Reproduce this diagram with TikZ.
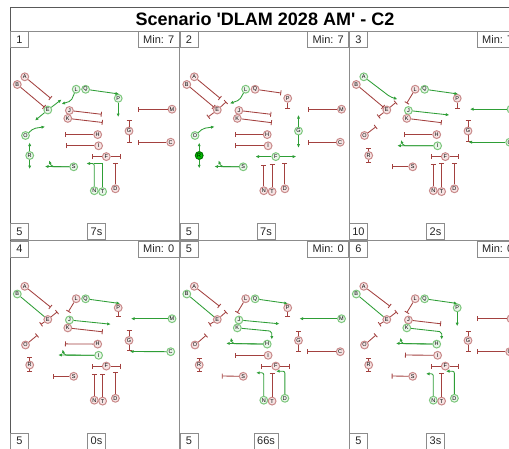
\documentclass[tikz,border=0pt]{standalone}
\usepackage{fontspec}
\setmainfont{Liberation Sans}
\usetikzlibrary{arrows.meta}
\definecolor{lred}{HTML}{A3413F}
\definecolor{lgreen}{HTML}{2E9E36}
\definecolor{nred}{HTML}{C98A8A}
\definecolor{nredf}{HTML}{F6E4E4}
\definecolor{ngreen}{HTML}{7DC77D}
\definecolor{ngreenf}{HTML}{EAF6EA}
\newcommand\nodelist{A/14.8/45.8, B/7.3/53.5, E/37.8/79, L/66.2/58.2, Q/75.6/58.3, P/108.2/67.3, M/162/78.2, J/59.4/79.5, K/57.8/87.4, G/119/100, C/160.7/111.2, O/15.5/104.5, H/87.7/103.6, I/88.6/114.8, R/19.7/124.5, F/96.3/125.6, S/63.7/135.8, N/84.3/159.7, T/92.6/160.6, D/105.4/157.8}
\newcommand\pnodes[1]{%
\begin{scope}[st-A/.style=rn, st-B/.style=rn, st-E/.style=rn, st-L/.style=rn, st-Q/.style=rn, st-P/.style=rn, st-M/.style=rn, st-J/.style=rn, st-K/.style=rn, st-G/.style=rn, st-C/.style=rn, st-O/.style=rn, st-H/.style=rn, st-I/.style=rn, st-R/.style=rn, st-F/.style=rn, st-S/.style=rn, st-N/.style=rn, st-T/.style=rn, st-D/.style=rn, #1]
\foreach \n/\x/\y in \nodelist {\node[st-\n] (\n) at (\x,\y) {\n};}
\end{scope}}
\newcommand\plabels[4]{%
\node[lbox, anchor=north west] (num) at (0,0) {#1};
\node[lbox, anchor=north east, minimum width=41pt] (min) at (169.5,0) {#2};
\node[lbox, anchor=south west] (cnt) at (0,209) {#3};
\node[lbox, anchor=south] (time) at (86.5,209) {#4};}
\begin{document}
\begin{tikzpicture}[x=1pt,y=-1pt,
 nd/.style={circle, minimum size=7.8pt, inner sep=0pt, line width=1pt, font=\fontsize{5.5}{5.5}\selectfont, text=black},
 rn/.style={nd, draw=nred, fill=nredf},
 gn/.style={nd, draw=ngreen, fill=ngreenf},
 fn/.style={nd, draw=green!45!black, fill=green!75!black},
 rl/.style={draw=lred, line width=0.85pt, -{Bar[width=5pt]}},
 gl/.style={draw=lgreen, line width=0.85pt, rounded corners=2pt, -{Latex[length=3.5pt,width=3.2pt]}},
 gp/.style={draw=lgreen, line width=0.85pt},
 frm/.style={draw=black!45, line width=0.8pt},
 lbox/.style={draw=black!45, line width=0.7pt, fill=white, font=\fontsize{11}{11}\selectfont, minimum height=16pt, minimum width=18pt, inner xsep=3pt, inner ysep=2pt, text=black!85}]
\useasboundingbox (0,0) rectangle (509,448);
\clip (0,0) rectangle (509,448);
\fill[white] (0,0) rectangle (509,448);
% frame
\draw[frm] (10,31) -- (520,31);
\draw[frm] (10,240) -- (520,240);
\draw[frm] (179.5,31) -- (179.5,450);
\draw[frm] (349,31) -- (349,450);
\draw[frm] (518.5,31) -- (518.5,450);
\draw[draw=black!65, line width=1pt] (520,7) -- (10,7) -- (10,450);
\node[font=\bfseries\fontsize{18}{18}\selectfont] (title) at (265,19.5) {Scenario \textquotesingle DLAM 2028 AM\textquotesingle{} - C2};

% ---------- panel 1
\begin{scope}[shift={(10,31)}, name prefix=p1-]
\pnodes{st-E/.style=gn, st-L/.style=gn, st-Q/.style=gn, st-P/.style=gn, st-O/.style=gn, st-R/.style=gn, st-S/.style=gn, st-N/.style=gn, st-T/.style=gn}
\plabels{1}{Min: 7}{5}{7s}
\draw[rl] (A) -- (40.7,67.3);
\draw[rl] (B) -- (E);
\draw[gl] (E) -- (25,89.5);
\draw[gl] (E) -- (51.5,68.5);
\draw[gl] (L) -- (61,70) -- (51.5,73);
\draw[gl] (Q) -- (109,63);
\draw[gl] (P) -- (108.2,86);
\draw[rl] (M) -- (128.3,78.2);
\draw[rl] (J) -- (91.7,83.3);
\draw[rl] (K) -- (92.7,91.5);
\draw[rl] (G) -- (119,89);
\draw[rl] (G) -- (119,111.5);
\draw[rl] (C) -- (128.3,111.2);
\draw[gl] (O) -- (23.5,97.5) -- (35,95.7);
\draw[rl] (H) -- (55,103.6);
\draw[rl] (I) -- (56,114.8);
\draw[gl] (R) -- (19.7,111.5);
\draw[gl] (R) -- (19.7,138);
\draw[rl] (F) -- (81.7,125.6);
\draw[rl] (F) -- (110.7,125.6);
\draw[gl] (S) -- (35,135.5);
\draw[gl] (S) -- (41.5,135.6) -- (39,129.5);
\draw[gl] (N) -- (84.3,132.5) -- (76.5,132.5);
\draw[gp] (T) -- (92.6,132.5) -- (84.3,132.5);
\draw[rl] (D) -- (105.4,131.7);
\end{scope}

% ---------- panel 2
\begin{scope}[shift={(179.5,31)}, name prefix=p2-]
\pnodes{st-L/.style=gn, st-G/.style=gn, st-O/.style=gn, st-R/.style=fn, st-F/.style=gn, st-S/.style=gn}
\plabels{2}{Min: 7}{5}{7s}
\draw[rl] (A) -- (40.7,67.3);
\draw[rl] (B) -- (E);
\draw[rl] (E) -- (28.5,86);
\draw[rl] (E) -- (46.7,70.8);
\draw[gl] (L) -- (60,69) -- (50.5,72.5);
\draw[rl] (Q) -- (101.7,62);
\draw[rl] (P) -- (108.2,78.3);
\draw[rl] (M) -- (128.3,78.2);
\draw[rl] (J) -- (91.7,83.3);
\draw[rl] (K) -- (92.3,91.7);
\draw[gl] (G) -- (119,84);
\draw[gl] (G) -- (119,116.7);
\draw[rl] (C) -- (128.3,111.2);
\draw[gl] (O) -- (23.5,97.5) -- (35,95.7);
\draw[rl] (H) -- (55,103.6);
\draw[rl] (I) -- (55.7,114.8);
\draw[gl] (R) -- (19.7,111.7);
\draw[gl] (R) -- (19.7,137.3);
\draw[gl] (F) -- (76,125.6);
\draw[gl] (F) -- (116.7,125.6);
\draw[gl] (S) -- (35,135.5);
\draw[gl] (S) -- (41.5,135.6) -- (39,129.5);
\draw[rl] (N) -- (84.3,134);
\draw[rl] (T) -- (92.6,133);
\draw[rl] (D) -- (105.4,131.7);
\end{scope}

% ---------- panel 3
\begin{scope}[shift={(349,31)}, name prefix=p3-]
\pnodes{st-A/.style=gn, st-Q/.style=gn, st-M/.style=gn, st-J/.style=gn, st-C/.style=gn, st-I/.style=gn}
\plabels{3}{Min: 7}{10}{2s}
\draw[gl] (A) -- (41,65.7) -- (48.3,68.3);
\draw[rl] (B) -- (E);
\draw[rl] (E) -- (29.3,85.7);
\draw[rl] (E) -- (47,71.3);
\draw[rl] (L) -- (57.7,72.3);
\draw[gl] (Q) -- (109,63);
\draw[rl] (P) -- (108.2,78.3);
\draw[gl] (M) -- (121,78.2);
\draw[gl] (J) -- (100.3,84);
\draw[rl] (K) -- (92.7,91.7);
\draw[rl] (G) -- (119,89);
\draw[rl] (G) -- (119,110.7);
\draw[gl] (C) -- (119.5,111.2);
\draw[rl] (O) -- (27,95.7);
\draw[rl] (H) -- (55,103.6);
\draw[gl] (I) -- (48.3,114.7);
\draw[gl] (I) -- (54,114.8) -- (52,109);
\draw[rl] (R) -- (19.7,117.3);
\draw[rl] (R) -- (19.7,131.7);
\draw[rl] (S) -- (42.7,135.8);
\draw[rl] (F) -- (81.7,125.6);
\draw[rl] (F) -- (110.3,125.6);
\draw[rl] (N) -- (84.3,133.3);
\draw[rl] (T) -- (92.6,132.3);
\draw[rl] (D) -- (105.4,132.3);
\end{scope}

% ---------- panel 4
\begin{scope}[shift={(10,240.5)}, name prefix=p4-]
\pnodes{st-B/.style=gn, st-Q/.style=gn, st-M/.style=gn, st-J/.style=gn, st-C/.style=gn, st-I/.style=gn}
\plabels{4}{Min: 0}{5}{0s}
\draw[rl] (A) -- (40.7,66.7);
\draw[gp] (B) -- (E);
\draw[rl] (E) -- (30.7,84);
\draw[rl] (E) -- (47.3,71.3);
\draw[rl] (L) -- (58.3,71.3);
\draw[gl] (Q) -- (110,63);
\draw[rl] (P) -- (108.2,76.7);
\draw[gl] (M) -- (121,78.2);
\draw[gl] (J) -- (100.7,83.7);
\draw[rl] (K) -- (92.7,91.3);
\draw[rl] (G) -- (119,89);
\draw[rl] (G) -- (119,110.7);
\draw[gl] (C) -- (120,111);
\draw[rl] (O) -- (27.3,94.7);
\draw[rl] (H) -- (55,103.4);
\draw[gl] (I) -- (48.3,114.5);
\draw[gl] (I) -- (54,114.6) -- (52.5,109);
\draw[rl] (R) -- (19.7,116.7);
\draw[rl] (R) -- (19.7,131.7);
\draw[rl] (S) -- (43.3,135.8);
\draw[rl] (F) -- (82.3,125.6);
\draw[rl] (F) -- (111,125.6);
\draw[rl] (N) -- (84.3,133);
\draw[rl] (T) -- (92.6,133);
\draw[rl] (D) -- (105.4,131.7);
\end{scope}

% ---------- panel 5
\begin{scope}[shift={(179.5,240.5)}, name prefix=p5-]
\pnodes{st-B/.style=gn, st-Q/.style=gn, st-M/.style=gn, st-J/.style=gn, st-K/.style=gn, st-H/.style=gn, st-N/.style=gn, st-D/.style=gn}
\plabels{5}{Min: 0}{5}{66s}
\draw[rl] (A) -- (40,65.7);
\draw[gp] (B) -- (E);
\draw[rl] (E) -- (30,84);
\draw[rl] (E) -- (46.7,71.3);
\draw[rl] (L) -- (57.7,72.3);
\draw[gl] (Q) -- (108.3,63);
\draw[rl] (P) -- (108.2,76.7);
\draw[gl] (M) -- (120,78.2);
\draw[gl] (J) -- (100,83.3);
\draw[gl] (K) -- (92.3,90.7) -- (92.3,99);
\draw[rl] (G) -- (119,90);
\draw[rl] (G) -- (119,111.3);
\draw[rl] (C) -- (127.7,111.2);
\draw[rl] (O) -- (26.7,94.7);
\draw[gl] (H) -- (46.7,102.9);
\draw[gl] (H) -- (52.5,103.1) -- (51.5,97.3);
\draw[rl] (I) -- (55.7,114.8);
\draw[rl] (R) -- (19.7,117.3);
\draw[rl] (R) -- (19.7,131.7);
\draw[rl] (S) -- (42.3,135.5);
\draw[rl] (F) -- (81.7,125.6);
\draw[rl] (F) -- (110.7,125.6);
\draw[gl] (N) -- (84.3,132.3) -- (76.7,132.3);
\draw[rl] (T) -- (92.6,132.3);
\draw[gl] (D) -- (105.4,130.7) -- (96.7,130.7);
\end{scope}

% ---------- panel 6
\begin{scope}[shift={(349,240.5)}, name prefix=p6-]
\pnodes{st-B/.style=gn, st-Q/.style=gn, st-P/.style=gn, st-K/.style=gn, st-H/.style=gn, st-N/.style=gn, st-D/.style=gn}
\plabels{6}{Min: 0}{5}{3s}
\draw[rl] (A) -- (41,65.7);
\draw[gp] (B) -- (E);
\draw[rl] (E) -- (30.3,84);
\draw[rl] (E) -- (47.7,71.3);
\draw[rl] (L) -- (57.7,72.3);
\draw[gl] (Q) -- (108.3,63);
\draw[gl] (P) -- (108.2,85.7);
\draw[rl] (M) -- (127.7,78.2);
\draw[rl] (J) -- (92,83.3);
\draw[gl] (K) -- (92.7,91.3) -- (92.7,99);
\draw[rl] (G) -- (119,90);
\draw[rl] (G) -- (119,111.3);
\draw[rl] (C) -- (127.7,111.2);
\draw[rl] (O) -- (27,94.5);
\draw[gl] (H) -- (47,102.9);
\draw[gl] (H) -- (52.5,103.1) -- (51.5,97.3);
\draw[rl] (I) -- (56,114.5);
\draw[rl] (R) -- (19.7,117.3);
\draw[rl] (R) -- (19.7,131.7);
\draw[rl] (S) -- (42.7,135.5);
\draw[rl] (F) -- (81.7,125.6);
\draw[rl] (F) -- (110.3,125.6);
\draw[gl] (N) -- (84.3,133.3) -- (77,133.3);
\draw[rl] (T) -- (92.6,132.3);
\draw[gl] (D) -- (105.4,130.7) -- (97,130.7);
\end{scope}
\end{tikzpicture}
\end{document}
